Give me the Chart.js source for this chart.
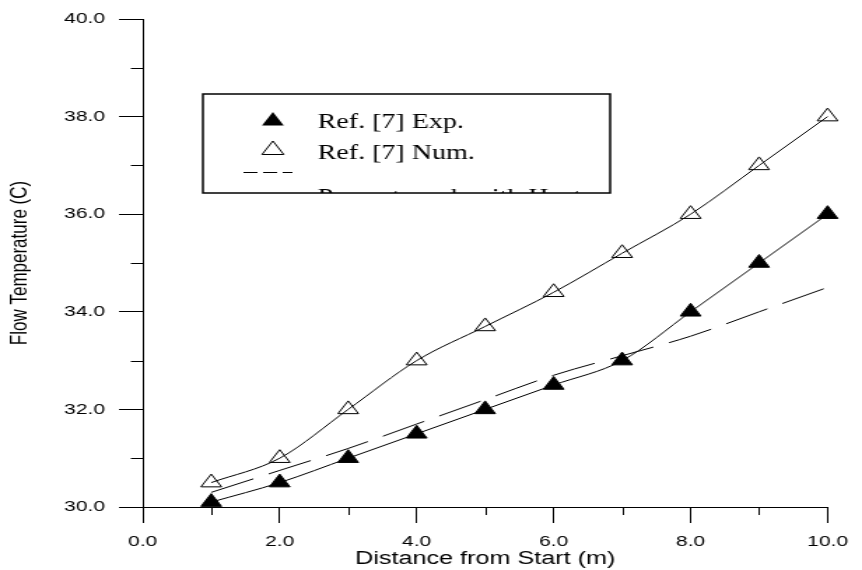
<!DOCTYPE html>
<html>
<head>
<meta charset="utf-8">
<script src="https://cdn.jsdelivr.net/npm/chart.js@4/dist/chart.umd.min.js"></script>
<style>
  body { margin: 0; background: #fff; }
</style>
</head>
<body>
<!-- the reference is a stretched picture, so the chart is drawn narrow and widened -->
<canvas id="chart" width="616" height="570" style="display:block;width:862px;height:570px"></canvas>
<script>
// Distance from start (m)
const distance = [1, 2, 3, 4, 5, 6, 7, 8, 9, 10];
// Ref. [7] Exp.
const refExp = [30.1, 30.5, 31.0, 31.5, 32.0, 32.5, 33.0, 34.0, 35.0, 36.0];
// Ref. [7] Num.
const refNum = [30.5, 31.0, 32.0, 33.0, 33.7, 34.4, 35.2, 36.0, 37.0, 38.0];
// Present work with Heat
const present = [30.3, 30.75, 31.2, 31.7, 32.2, 32.7, 33.1, 33.5, 34.0, 34.5];

const xMajor = [0, 2, 4, 6, 8, 10];
const yMajor = [30, 32, 34, 36, 38, 40];
const legendLabels = ["Ref. [7] Exp.", "Ref. [7] Num.", "Present work with Heat"];

const toPoints = (ys) => distance.map((d, i) => ({ x: d, y: ys[i] }));

// minor ticks (odd values) are shorter, chart.js only knows one tick length
const minorTicks = {
  id: "minorTicks",
  afterDraw(chart) {
    const { ctx, chartArea, scales } = chart;
    ctx.save();
    ctx.strokeStyle = "#000";
    ctx.lineWidth = 1;
    ctx.beginPath();
    scales.x.ticks.forEach(t => {
      if (xMajor.includes(t.value)) return;
      const px = Math.round(scales.x.getPixelForValue(t.value)) + 0.5;
      ctx.moveTo(px, chartArea.bottom);
      ctx.lineTo(px, chartArea.bottom + 8);
    });
    scales.y.ticks.forEach(t => {
      if (yMajor.includes(t.value)) return;
      const py = Math.round(scales.y.getPixelForValue(t.value)) + 0.5;
      ctx.moveTo(chartArea.left - 8.5, py);
      ctx.lineTo(chartArea.left, py);
    });
    ctx.stroke();
    ctx.restore();
  }
};

function triangle(ctx, x, y, r) {
  ctx.beginPath();
  ctx.moveTo(x, y - r);
  ctx.lineTo(x + r * 0.866, y + r / 2);
  ctx.lineTo(x - r * 0.866, y + r / 2);
  ctx.closePath();
}

// boxed legend inside the plot, the last entry is cut by the frame
const boxLegend = {
  id: "boxLegend",
  afterDraw(chart) {
    const ctx = chart.ctx;
    const box = { left: 145, top: 94, right: 436, bottom: 193 };
    ctx.save();
    ctx.fillStyle = "#fff";
    ctx.fillRect(box.left, box.top, box.right - box.left, box.bottom - box.top);

    ctx.save();
    ctx.beginPath();
    ctx.rect(box.left, box.top, box.right - box.left, box.bottom - box.top);
    ctx.clip();
    ctx.fillStyle = "#000";
    ctx.strokeStyle = "#000";
    ctx.lineWidth = 1;
    triangle(ctx, 195, 121, 9);
    ctx.fill();
    triangle(ctx, 195, 150, 9);
    ctx.stroke();
    ctx.setLineDash([10, 4]);
    ctx.beginPath();
    ctx.moveTo(174, 172.5);
    ctx.lineTo(209, 172.5);
    ctx.stroke();
    ctx.setLineDash([]);
    ctx.font = '20px "Liberation Serif"';
    ctx.textBaseline = "alphabetic";
    ctx.fillText(legendLabels[0], 227, 128);
    ctx.fillText(legendLabels[1], 227, 159);
    ctx.fillText(legendLabels[2], 227, 203);
    ctx.restore();

    ctx.lineWidth = 1.5;
    ctx.strokeStyle = "#000";
    ctx.strokeRect(box.left, box.top, box.right - box.left, box.bottom - box.top);
    ctx.restore();
  }
};

const tickFont = { family: "Liberation Sans", size: 15 };

new Chart(document.getElementById("chart"), {
  type: "line",
  data: {
    datasets: [
      {
        label: legendLabels[0],
        data: toPoints(refExp),
        borderColor: "#000",
        borderWidth: 1,
        pointStyle: "triangle",
        pointRadius: 8.5,
        pointBackgroundColor: "#000",
        pointBorderColor: "#000",
        pointBorderWidth: 1,
        cubicInterpolationMode: "monotone",
        clip: false
      },
      {
        label: legendLabels[1],
        data: toPoints(refNum),
        borderColor: "#000",
        borderWidth: 1,
        pointStyle: "triangle",
        pointRadius: 8.5,
        pointBackgroundColor: "rgba(0,0,0,0)",
        pointBorderColor: "#000",
        pointBorderWidth: 1,
        cubicInterpolationMode: "monotone",
        clip: false
      },
      {
        label: legendLabels[2],
        data: toPoints(present),
        borderColor: "#000",
        borderWidth: 1,
        borderDash: [33, 12],
        pointRadius: 0,
        cubicInterpolationMode: "monotone",
        clip: false
      }
    ]
  },
  options: {
    responsive: false,
    devicePixelRatio: 1,
    animation: false,
    events: [],
    layout: { padding: { left: 0, right: 14.6, top: 17, bottom: 0 } },
    plugins: {
      legend: { display: false },
      tooltip: { enabled: false }
    },
    scales: {
      x: {
        type: "linear",
        min: 0,
        max: 10,
        afterFit: (scale) => { scale.height = 63; },
        border: { display: true, color: "#000", width: 1 },
        grid: {
          drawOnChartArea: false,
          tickLength: 16,
          tickColor: (c) => (c.tick && xMajor.includes(c.tick.value) ? "#000" : "rgba(0,0,0,0)")
        },
        ticks: {
          stepSize: 1,
          autoSkip: false,
          maxRotation: 0,
          padding: 10,
          color: "#000",
          font: tickFont,
          callback: (v) => (xMajor.includes(v) ? v.toFixed(1) : "")
        },
        title: {
          display: true,
          text: "Distance from Start (m)",
          color: "#000",
          font: { family: "Liberation Sans", size: 18 },
          padding: { top: 0, bottom: 0 }
        }
      },
      y: {
        type: "linear",
        min: 30,
        max: 40,
        afterFit: (scale) => { scale.width = 102; },
        border: { display: true, color: "#000", width: 1 },
        grid: {
          drawOnChartArea: false,
          tickLength: 17,
          tickColor: (c) => (c.tick && yMajor.includes(c.tick.value) ? "#000" : "rgba(0,0,0,0)")
        },
        ticks: {
          stepSize: 1,
          autoSkip: false,
          padding: 10,
          color: "#000",
          font: tickFont,
          callback: (v) => (yMajor.includes(v) ? v.toFixed(1) : "")
        },
        title: {
          display: true,
          text: "Flow Temperature (C)",
          color: "#000",
          font: { family: "Liberation Sans", size: 17 },
          padding: { top: 4, bottom: 0 }
        }
      }
    }
  },
  plugins: [minorTicks, boxLegend]
});
</script>
</body>
</html>
